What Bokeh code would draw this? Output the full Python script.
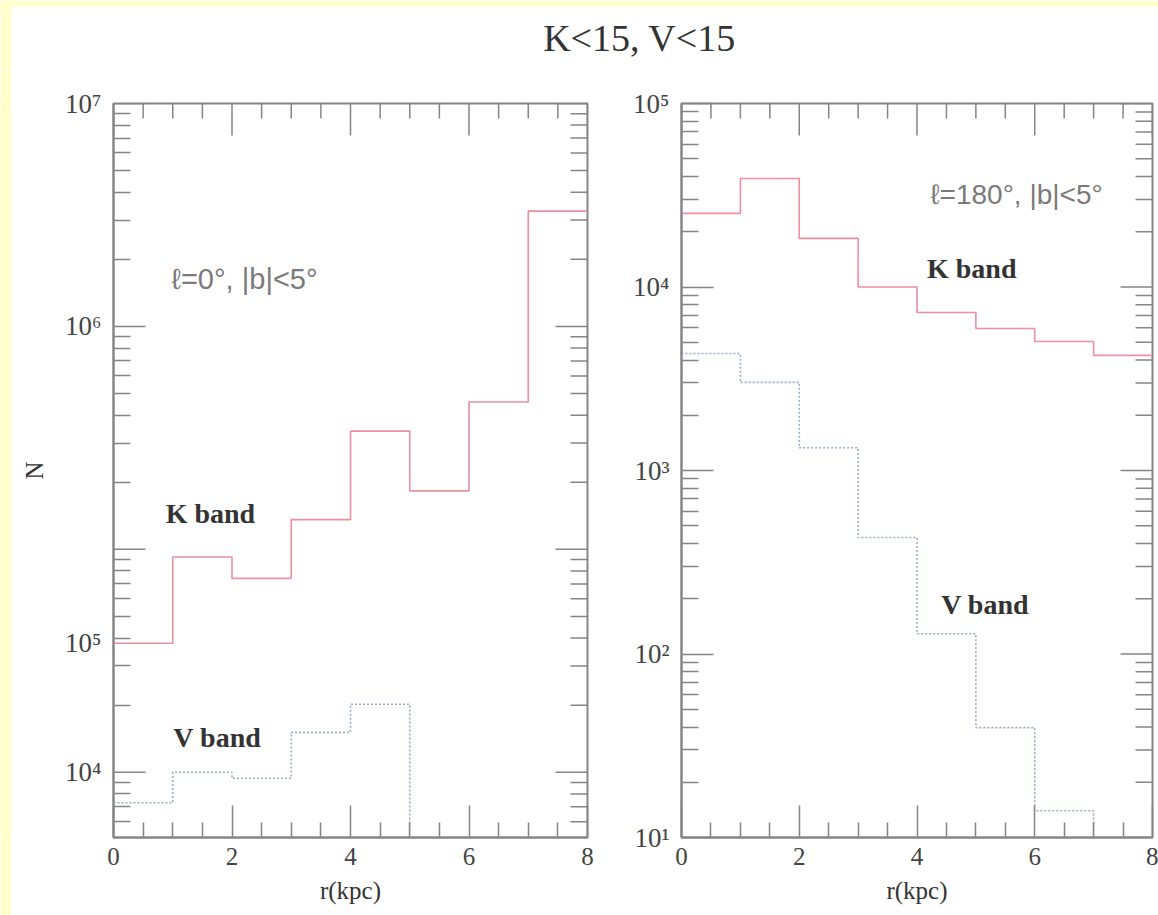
import math
from bokeh.plotting import figure
from bokeh.models import Range1d, FixedTicker, Label
from bokeh.layouts import column, row
from bokeh.embed import file_html
from bokeh.resources import INLINE

# ---------------- data ----------------
r_edges = [0, 1, 2, 3, 4, 5, 6, 7, 8]
# l = 0 deg, |b| < 5 deg
k_band_l0 = [3.79e4, 9.24e4, 7.41e4, 1.36e5, 3.39e5, 1.83e5, 4.58e5, 3.29e6]
v_band_l0 = [7.3e3, 1.0e4, 9.4e3, 1.51e4, 2.02e4]          # r > 5 kpc: below the plotted range
# l = 180 deg, |b| < 5 deg
k_band_l180 = [2.52e4, 3.90e4, 1.84e4, 1.0e4, 7.26e3, 5.94e3, 5.05e3, 4.24e3]
v_band_l180 = [4.34e3, 3.02e3, 1.33e3, 431, 129, 39.7, 14.0]  # r > 7 kpc: below the plotted range

x_ticks = [0, 2, 4, 6, 8]
x_minor = [0.5 * i for i in range(17) if i % 4]
# left panel: decade ticks, and where the original figure printed their labels
y_decades_l0 = [1e4, 1e5, 1e6, 1e7]
y_labelpos_l0 = [1e4, 3.79e4, 1e6, 1e7]
y_labels_l0 = ["10\u2074", "10\u2075", "10\u2076", "10\u2077"]
y_ticks_l180 = [1e1, 1e2, 1e3, 1e4, 1e5]
y_labels_l180 = ["10\u00b9", "10\u00b2", "10\u00b3", "10\u2074", "10\u2075"]

title_text = "K<15, V<15"

SERIF = "Liberation Serif"
SANS = "Liberation Sans"
AX = "#858585"
TXT = "#444444"
K_COLOR = "#ee8fa0"
V_COLOR = "#9ca8cc"
PAPER = "#ffffcc"


def minor_log(lo_exp, hi_exp):
    return [m * 10.0 ** e for e in range(lo_exp, hi_exp) for m in range(2, 10)]


def style_axis(ax, major=32, minor=16, label_size="25px"):
    ax.axis_line_color = AX
    ax.axis_line_width = 2
    ax.major_tick_line_color = AX
    ax.minor_tick_line_color = AX
    ax.major_tick_line_width = 1.5
    ax.minor_tick_line_width = 1.5
    ax.major_tick_in = major
    ax.major_tick_out = 0
    ax.minor_tick_in = minor
    ax.minor_tick_out = 0
    ax.major_label_text_font = SERIF
    ax.major_label_text_font_size = label_size
    ax.major_label_text_color = TXT
    ax.major_label_text_font_style = "normal"
    ax.axis_label_text_font = SERIF
    ax.axis_label_text_font_size = "25px"
    ax.axis_label_text_color = "#333333"
    ax.axis_label_text_font_style = "normal"


def edge_ticks(p, xs, ys, length, vertical):
    # inward tick marks drawn on a frame edge: a dash centred on the edge,
    # whose outer half is clipped away by the frame
    p.scatter(xs, ys, marker="dash", size=2 * length,
              angle=math.pi / 2 if vertical else 0.0,
              line_color=AX, line_width=1.5)


def panel(y_lo, y_hi, yt, ylabels, ymin, frame_w, mb_left, mb_right,
          ylabel=None, major_in=32):
    p = figure(frame_width=frame_w, frame_height=734,
               x_range=Range1d(0, 8), y_range=Range1d(y_lo, y_hi),
               y_axis_type="log", output_backend="svg", toolbar_location=None,
               min_border_left=mb_left, min_border_right=mb_right,
               min_border_top=35, min_border_bottom=78,
               background_fill_color="white", border_fill_color="white",
               outline_line_color=AX, outline_line_width=2)
    p.grid.visible = False

    xa = p.below[0]
    xa.ticker = FixedTicker(ticks=x_ticks, minor_ticks=x_minor)
    style_axis(xa, 32, 15, "25px")
    xa.major_label_standoff = 10
    xa.axis_label = "r(kpc)"
    xa.axis_label_standoff = 9

    ya = p.left[0]
    ya.ticker = FixedTicker(ticks=yt, minor_ticks=ymin)
    style_axis(ya, major_in, 17, "27px")
    ya.major_label_standoff = 12
    ya.major_label_overrides = {t: s for t, s in zip(yt, ylabels)}
    if ylabel:
        ya.axis_label = ylabel
        ya.axis_label_standoff = 14

    # mirrored ticks on the top and right edges
    edge_ticks(p, x_ticks, [y_hi] * len(x_ticks), 32, True)
    edge_ticks(p, x_minor, [y_hi] * len(x_minor), 15, True)
    edge_ticks(p, [8] * len(ymin), ymin, 17, False)
    return p


def step_path(vals, floor):
    xs = r_edges[:len(vals) + 1]
    if len(vals) == len(r_edges) - 1:
        ys = list(vals) + [vals[-1]]
    else:
        ys = list(vals) + [floor]
    return xs, ys


def add_text(p, x, y, text, font, size, color, style="normal"):
    p.add_layout(Label(x=x, y=y, text=text, text_font=font, text_font_size=size,
                       text_color=color, text_font_style=style,
                       text_align="left", text_baseline="middle"))


# ---------------- left panel: l = 0 ----------------
p1 = panel(5.1e3, 1e7, y_labelpos_l0, y_labels_l0,
           [t for t in minor_log(3, 7) if t >= 5.1e3], 474, 102, 18,
           ylabel="N", major_in=0)
edge_ticks(p1, [0] * len(y_decades_l0), y_decades_l0, 32, False)
edge_ticks(p1, [8] * len(y_decades_l0), y_decades_l0, 32, False)
xs, ys = step_path(k_band_l0, 1e3)
p1.step(xs, ys, mode="after", line_color=K_COLOR, line_width=1.6)
xs, ys = step_path(v_band_l0, 1e3)
p1.step(xs, ys, mode="after", line_color=V_COLOR, line_width=1.6, line_dash="2 2")
add_text(p1, 0.98, 1.63e6, "\u2113=0\u00b0, |b|<5\u00b0", SANS, "29px", "#7a7a7a")
add_text(p1, 0.88, 1.45e5, "K band", SERIF, "28px", "#333333", "bold")
add_text(p1, 1.01, 1.44e4, "V band", SERIF, "28px", "#333333", "bold")

# ---------------- right panel: l = 180 ----------------
p2 = panel(10, 1e5, y_ticks_l180, y_labels_l180, minor_log(1, 5), 471, 76, 6)
edge_ticks(p2, [8] * len(y_ticks_l180), y_ticks_l180, 32, False)
xs, ys = step_path(k_band_l180, 1)
p2.step(xs, ys, mode="after", line_color=K_COLOR, line_width=1.6)
xs, ys = step_path(v_band_l180, 1)
p2.step(xs, ys, mode="after", line_color=V_COLOR, line_width=1.6, line_dash="2 2")
add_text(p2, 4.23, 3.19e4, "\u2113=180\u00b0, |b|<5\u00b0", SANS, "28px", "#7a7a7a")
add_text(p2, 4.17, 1.26e4, "K band", SERIF, "28px", "#333333", "bold")
add_text(p2, 4.41, 186, "V band", SERIF, "28px", "#333333", "bold")

# ---------------- title strip (with the pale paper edge of the original) ----------------
pt = figure(width=1158, height=68, x_range=Range1d(0, 1158), y_range=Range1d(0, 68),
            x_axis_location=None, y_axis_location=None, output_backend="svg",
            toolbar_location=None, min_border=0, outline_line_color=None,
            background_fill_color="white", border_fill_color="white")
pt.grid.visible = False
pt.quad(left=[0, 0], right=[1158, 11], bottom=[62, 0], top=[68, 68],
        fill_color=PAPER, line_color=None)
pt.add_layout(Label(x=639, y=31, text=title_text, text_font=SERIF, text_font_size="38px",
                    text_color="#333333", text_align="center", text_baseline="middle"))

edge = figure(width=11, height=847, x_axis_location=None, y_axis_location=None,
              output_backend="svg", toolbar_location=None, min_border=0,
              outline_line_color=None, background_fill_color=PAPER,
              border_fill_color=PAPER)
edge.grid.visible = False

layout = column(pt, row(edge, p1, p2))
open("out.html", "w").write(file_html(layout, INLINE))
